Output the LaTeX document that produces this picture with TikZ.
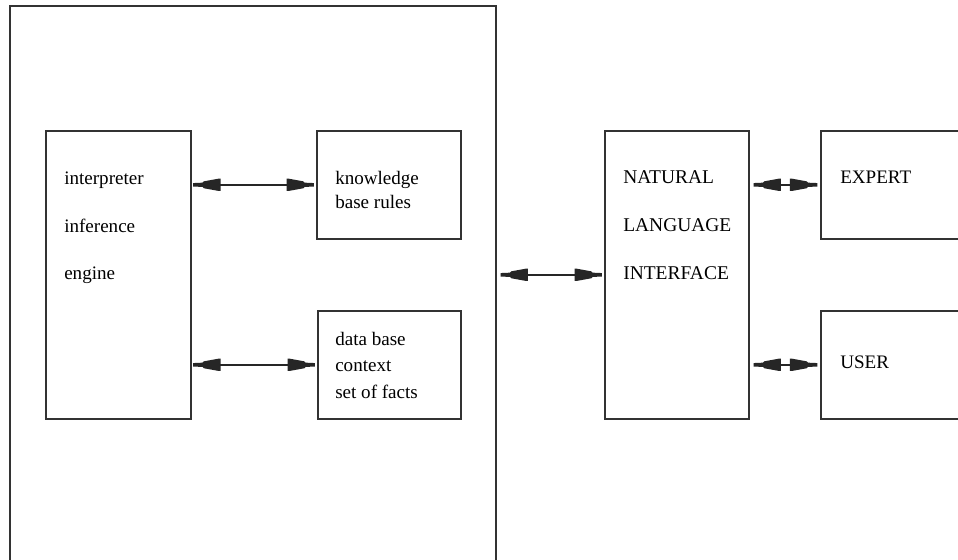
\documentclass[tikz,border=0pt]{standalone}
\usepackage{fontspec}
\setmainfont{Liberation Serif}
\usetikzlibrary{decorations.markings}
\newcommand{\wedgetip}[1]{%
  \fill[black!85] (0,-1.3pt) -- (#1*7pt,-1.6pt) -- (#1*8pt,-2.6pt) -- (#1*19pt,-4.6pt) -- (#1*20.5pt,-4.6pt)
    -- (#1*20.5pt,4.6pt) -- (#1*19pt,4.6pt) -- (#1*8pt,2.6pt) -- (#1*7pt,1.6pt) -- (0,1.3pt) -- cycle;}
\tikzset{
  box/.style={draw=black!80, line width=1.2pt, rectangle, inner sep=0pt},
  lbl/.style={anchor=base west, inner sep=0pt, font=\fontsize{14.3}{17}\selectfont},
  conn/.style={draw=black!85, line width=1.1pt, postaction={decorate},
    decoration={markings,
      mark=at position 0.01pt with {\wedgetip{1}},
      mark=at position -0.01pt with {\wedgetip{-1}}}}
}
\begin{document}
\begin{tikzpicture}[x=0.75pt,y=-0.75pt]
\useasboundingbox (0,0) rectangle (958,560);
\fill[white] (0,0) rectangle (958,560);
\clip (0,0) rectangle (958,560);
% boxes
\node[box, minimum width=486*0.75pt, minimum height=600*0.75pt, anchor=north west] (big) at (9,5) {};
\node[box, minimum width=145*0.75pt, minimum height=288*0.75pt, anchor=north west] (interp) at (45,130) {};
\node[box, minimum width=144*0.75pt, minimum height=108*0.75pt, anchor=north west] (know) at (316,130) {};
\node[box, minimum width=143*0.75pt, minimum height=108*0.75pt, anchor=north west] (data) at (317,310) {};
\node[box, minimum width=144*0.75pt, minimum height=288*0.75pt, anchor=north west] (nl) at (604,130) {};
\node[box, minimum width=180*0.75pt, minimum height=108*0.75pt, anchor=north west] (expert) at (820,130) {};
\node[box, minimum width=180*0.75pt, minimum height=108*0.75pt, anchor=north west] (user) at (820,310) {};
% texts
\node[lbl] (t1) at (64,185) {interpreter};
\node[lbl] (t2) at (64,232) {inference};
\node[lbl] (t3) at (64,279) {engine};
\node[lbl] (t4) at (335,185) {knowledge};
\node[lbl] (t5) at (335,209) {base rules};
\node[lbl] (t6) at (335,345) {data base};
\node[lbl] (t7) at (335,371) {context};
\node[lbl] (t8) at (335,398) {set of facts};
\node[lbl, font=\fontsize{14.6}{17}\selectfont] (t9) at (623,184) {NATURAL};
\node[lbl, font=\fontsize{14.6}{17}\selectfont] (t10) at (623,231) {LANGUAGE};
\node[lbl, font=\fontsize{14.6}{17}\selectfont] (t11) at (623,279) {INTERFACE};
\node[lbl] (t12) at (840,184) {EXPERT};
\node[lbl] (t13) at (840,368) {USER};
% connectors
\coordinate (a1) at ([xshift=1.2pt]interp.east |- know.west);
\coordinate (a2) at ([xshift=1.2pt]interp.east |- data.west);
\coordinate (a3) at ([xshift=3pt]big.east |- nl.west);
\coordinate (a4) at ([xshift=3pt]nl.east |- expert.west);
\coordinate (a5) at ([xshift=3pt]nl.east |- user.west);
\draw[conn] (a1) -- ([xshift=-1.5pt]know.west);
\draw[conn] (a2) -- ([xshift=-1.5pt]data.west);
\draw[conn] (a3) -- ([xshift=-1.5pt]nl.west);
\draw[conn] (a4) -- ([xshift=-2pt]expert.west);
\draw[conn] (a5) -- ([xshift=-2pt]user.west);
\end{tikzpicture}
\end{document}
